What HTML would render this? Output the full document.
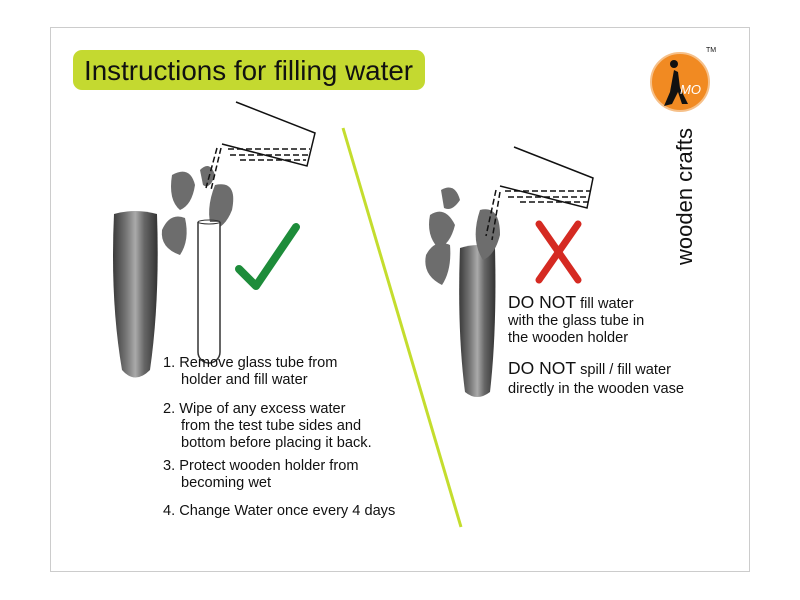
<!DOCTYPE html>
<html><head><meta charset="utf-8"><style>
body{margin:0;background:#fff}
svg{display:block}
text{font-family:"Liberation Sans",sans-serif;fill:#111}
</style></head><body>
<svg width="800" height="600" viewBox="0 0 800 600">
<defs>
<linearGradient id="vg" x1="0" x2="1" y1="0" y2="0">
<stop offset="0" stop-color="#3a3a3a"/><stop offset="0.3" stop-color="#777"/><stop offset="0.5" stop-color="#aaa"/><stop offset="0.7" stop-color="#666"/><stop offset="1" stop-color="#333"/>
</linearGradient>
</defs>
<rect x="50.5" y="27.5" width="699" height="544" fill="#fff" stroke="#ccc"/>
<rect x="73" y="50" width="352" height="40" rx="9" fill="#c4d930"/>
<text x="84" y="80" font-size="27.8">Instructions for filling water</text>
<!-- logo -->
<circle cx="680" cy="82" r="29" fill="#f18a22" stroke="#f6c089" stroke-width="2"/>
<circle cx="674" cy="64" r="4" fill="#111"/>
<path d="M674 70 L670 92 L664 106 L672 104 L678 92 L682 104 L688 104 L680 88 L678 72 Z" fill="#111"/>
<text x="680" y="94" font-size="13" font-style="italic" style="fill:#fff">MO</text>
<text x="706" y="52" font-size="7">TM</text>
<text transform="translate(692,265) rotate(-90)" font-size="22">wooden crafts</text>
<!-- divider -->
<line x1="343" y1="128" x2="461" y2="527" stroke="#c4dd2e" stroke-width="3"/>
<!-- left vase -->
<path d="M114 214 Q135 208 157 214 Q160 300 150 370 Q135 385 122 370 Q110 300 114 214 Z" fill="url(#vg)"/>
<!-- plant left -->
<g fill="#6d6d6d">
<path d="M172 175 Q190 165 195 185 Q192 205 180 210 Q168 200 172 175Z"/>
<path d="M215 185 Q238 180 232 210 Q225 228 212 230 Q205 210 215 185Z"/>
<path d="M162 230 Q170 212 185 218 Q190 240 180 255 Q160 248 162 230Z"/>
<path d="M200 170 Q210 160 215 175 Q210 190 203 185Z"/>
</g>
<!-- tube -->
<path d="M198 222 L198 352 A11 11 0 0 0 220 352 L220 222" fill="#fff" stroke="#333" stroke-width="1.5"/>
<ellipse cx="209" cy="222" rx="11" ry="2" fill="none" stroke="#333"/>
<!-- check -->
<polyline points="239,269 256,286 296,227" fill="none" stroke="#1d8c3a" stroke-width="8" stroke-linecap="round" stroke-linejoin="round"/>
<!-- jug 1 -->
<polyline points="236,102 315,133 307,166 222,144" fill="none" stroke="#111" stroke-width="1.5"/>
<g stroke="#111" stroke-width="1.5" stroke-dasharray="6,3">
<line x1="228" y1="149" x2="310" y2="149"/><line x1="230" y1="155" x2="308" y2="155"/><line x1="240" y1="160" x2="306" y2="160"/>
<line x1="217" y1="148" x2="206" y2="188"/><line x1="221" y1="148" x2="211" y2="190"/>
</g>
<!-- right vase -->
<path d="M460 248 Q478 242 495 248 Q497 330 490 392 Q477 402 465 392 Q457 330 460 248 Z" fill="url(#vg)"/>
<g fill="#6d6d6d">
<path d="M430 215 Q445 205 455 225 Q450 245 438 248 Q426 235 430 215Z"/>
<path d="M480 210 Q500 205 500 235 Q495 255 483 260 Q470 240 480 210Z"/>
<path d="M426 255 Q435 238 450 245 Q452 270 442 285 Q422 275 426 255Z"/>
<path d="M441 190 Q455 182 460 200 Q452 212 444 208Z"/>
</g>
<!-- jug 2 -->
<polyline points="514,147 593,178 587,208 500,186" fill="none" stroke="#111" stroke-width="1.5"/>
<g stroke="#111" stroke-width="1.5" stroke-dasharray="6,3">
<line x1="505" y1="191" x2="590" y2="191"/><line x1="508" y1="197" x2="589" y2="197"/><line x1="520" y1="202" x2="588" y2="202"/>
<line x1="496" y1="190" x2="486" y2="236"/><line x1="500" y1="192" x2="492" y2="240"/>
</g>
<!-- X -->
<g stroke="#d52a22" stroke-width="7" stroke-linecap="round">
<line x1="539" y1="224" x2="578" y2="280"/><line x1="578" y1="224" x2="539" y2="280"/>
</g>
<!-- left text -->
<g font-size="14.6">
<text x="163" y="367">1. Remove glass tube from</text>
<text x="181" y="384">holder and fill water</text>
<text x="163" y="413">2. Wipe of any excess water</text>
<text x="181" y="430">from the test tube sides and</text>
<text x="181" y="447">bottom before placing it back.</text>
<text x="163" y="470">3. Protect wooden holder from</text>
<text x="181" y="487">becoming wet</text>
<text x="163" y="515">4. Change Water once every 4 days</text>
</g>
<!-- right text -->
<text x="508" y="308" font-size="17.5">DO NOT<tspan font-size="14.6"> fill water</tspan></text>
<text x="508" y="325" font-size="14.6">with the glass tube in</text>
<text x="508" y="342" font-size="14.6">the wooden holder</text>
<text x="508" y="374" font-size="17.5">DO NOT<tspan font-size="14.6"> spill / fill water</tspan></text>
<text x="508" y="393" font-size="14.6">directly in the wooden vase</text>
</svg>
</body></html>
